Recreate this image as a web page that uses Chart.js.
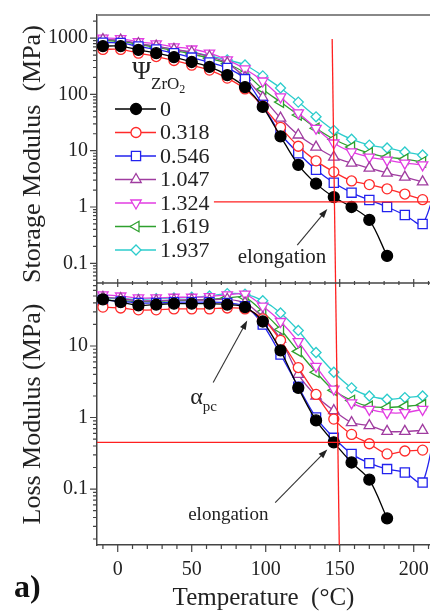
<!DOCTYPE html>
<html>
<head>
<meta charset="utf-8">
<script src="https://cdn.jsdelivr.net/npm/chart.js@4.4.1/dist/chart.umd.min.js"></script>
<style>
  html, body { margin: 0; padding: 0; background: #fff; }
  #wrap { position: relative; width: 430px; height: 613px; overflow: hidden; }
  canvas { position: absolute; left: 0; top: 0; }
  #tag { position: absolute; left: 14px; top: 568px; font: bold 32px "Liberation Serif", serif; color: #111; }
</style>
</head>
<body>
<div id="wrap">
  <canvas id="lossChart" width="430" height="613"></canvas>
  <canvas id="storageChart" width="430" height="613"></canvas>
  <div id="tag">a)</div>
</div>
<script>
// temperatures (°C) of the measuring points
const temps = [-10, 2, 14, 26, 38, 50, 62, 74, 86, 98, 110, 122, 134, 146, 158, 170, 182, 194, 206, 218]
const psi = ['0', '0.318', '0.546', '1.047', '1.324', '1.619', '1.937']

// storage modulus (MPa)
const storage0    = [720, 720, 617, 540, 460, 376, 307, 220, 135, 60, 18, 5.6, 2.6, 1.5, 1.0, 0.59, 0.135]
const storage0318 = [630, 630, 540, 470, 400, 330, 270, 195, 125, 62, 26, 12, 6.6, 4.2, 2.9, 2.5, 2.1, 1.7, 1.35]
const storage0546 = [830, 820, 710, 630, 540, 450, 370, 295, 187, 65, 20, 9, 4.6, 2.7, 1.8, 1.33, 1.0, 0.72, 0.5, 5]
const storage1047 = [940, 920, 800, 720, 630, 560, 470, 360, 200, 88, 38, 19, 11.6, 7.7, 6.0, 4.9, 4.0, 3.4, 2.8]
const storage1324 = [1000, 980, 860, 790, 700, 640, 540, 410, 283, 173, 90, 47, 25, 13.7, 9.5, 7.7, 6.8, 6.0, 5.6]
const storage1619 = [900, 880, 770, 690, 600, 520, 440, 350, 240, 124, 73, 43, 25, 16, 11.6, 9.1, 7.7, 7.1, 6.3]
const storage1937 = [920, 900, 790, 710, 630, 560, 480, 410, 333, 213, 130, 73, 40, 23, 16, 12.6, 11.2, 9.5, 8.4]

// loss modulus (MPa)
const loss0    = [45, 41, 37, 38, 39, 39, 39, 38, 35, 22, 8.7, 2.6, 0.91, 0.45, 0.235, 0.135, 0.039]
const loss0318 = [35, 34, 32, 32, 33, 33, 33, 34, 33, 24, 12, 5.0, 2.1, 0.95, 0.58, 0.43, 0.31, 0.34, 0.35]
const loss0546 = [44, 42, 40, 40, 41, 41, 41, 40, 36, 20, 7.6, 2.7, 1.0, 0.52, 0.31, 0.23, 0.19, 0.17, 0.123, 2.0]
const loss1047 = [48, 46, 43, 43, 44, 44, 44, 45, 40, 25, 12.5, 4.0, 2.0, 1.25, 0.85, 0.77, 0.64, 0.64, 0.66]
const loss1324 = [52, 50, 47, 47, 48, 48, 49, 52, 53, 36, 22, 11.5, 5.2, 2.5, 1.6, 1.3, 1.17, 1.17, 1.3]
const loss1619 = [44, 43, 42, 42, 43, 44, 45, 47, 48, 30, 17, 8.4, 4.3, 2.4, 1.73, 1.43, 1.38, 1.43, 1.5]
const loss1937 = [47, 46, 45, 46, 47, 48, 50, 54, 53, 43, 29, 16.5, 8.1, 4.3, 2.6, 2.0, 1.8, 1.9, 2.0]

// red guide lines
const guideStorage = 1.23
const guideLoss = 0.45
const guideTempTop = [144.9, 147.2]
const guideTempBottom = [147.2, 149.7]

// ticks
const xTicks = [0, 50, 100, 150, 200]
const storageTicks = [0.1, 1, 10, 100, 1000]
const lossTicks = [0.1, 1, 10]

const serif = '"Liberation Serif", "Times New Roman", serif'
const axisColor = '#444'
const textColor = '#222'

const looks = [
    {color: '#000000', fill: '#000000', style: 'circle', rot: 0, r: 5.5},
    {color: '#ff2a2a', fill: '#ffffff', style: 'circle', rot: 0, r: 5},
    {color: '#2222ee', fill: '#ffffff', style: 'rect', rot: 0, r: 6.5},
    {color: '#a03ca0', fill: '#ffffff', style: 'triangle', rot: 0, r: 6},
    {color: '#e23ce2', fill: '#ffffff', style: 'triangle', rot: 180, r: 6},
    {color: '#2ea02e', fill: '#ffffff', style: 'triangle', rot: -90, r: 6},
    {color: '#2ccccc', fill: '#ffffff', style: 'rectRot', rot: 0, r: 5},
]

function seriesSets(lists) {
    return lists.map((vals, i) => ({
        label: psi[i],
        data: vals.map((v, j) => ({x: temps[j], y: v})),
        borderColor: looks[i].color,
        backgroundColor: looks[i].fill,
        pointBackgroundColor: looks[i].fill,
        pointBorderColor: looks[i].color,
        pointStyle: looks[i].style,
        pointRotation: looks[i].rot,
        pointRadius: looks[i].r,
        pointBorderWidth: 1.3,
        borderWidth: 1.3,
        tension: 0.3,
        fill: false,
        series: true
    }))
}

function guide(points) {
    return {data: points, borderColor: '#ff2020', borderWidth: 1.3, pointRadius: 0, tension: 0, fill: false, series: false}
}

function decadeTicks(scale) {
    const out = []
    const lo = Math.floor(Math.log10(scale.min)), hi = Math.ceil(Math.log10(scale.max))
    for (let e = lo; e <= hi; e++) {
        for (let m = 1; m < 10; m++) {
            const v = m * Math.pow(10, e)
            if (v >= scale.min && v <= scale.max) out.push({v: v, major: m === 1})
        }
    }
    return out
}

function arrow(ctx, x1, y1, x2, y2) {
    const ang = Math.atan2(y2 - y1, x2 - x1)
    const L = 9, W = 3.2
    ctx.beginPath()
    ctx.moveTo(x1, y1)
    ctx.lineTo(x2 - 4 * Math.cos(ang), y2 - 4 * Math.sin(ang))
    ctx.stroke()
    ctx.beginPath()
    ctx.moveTo(x2, y2)
    ctx.lineTo(x2 - L * Math.cos(ang) + W * Math.sin(ang), y2 - L * Math.sin(ang) - W * Math.cos(ang))
    ctx.lineTo(x2 - L * Math.cos(ang) - W * Math.sin(ang), y2 - L * Math.sin(ang) + W * Math.cos(ang))
    ctx.closePath()
    ctx.fill()
}

function marker(ctx, ds, x, y) {
    ctx.save()
    ctx.fillStyle = ds.pointBackgroundColor
    ctx.strokeStyle = ds.pointBorderColor
    ctx.lineWidth = ds.pointBorderWidth
    Chart.helpers.drawPoint(ctx, {
        pointStyle: ds.pointStyle, rotation: ds.pointRotation, radius: ds.pointRadius, borderWidth: ds.pointBorderWidth
    }, x, y)
    ctx.restore()
}

const frame = {
    id: 'frame',
    afterDraw(chart, args, o) {
        const {ctx, chartArea: a} = chart
        const x = chart.scales.x, y = chart.scales.y
        ctx.save()
        ctx.strokeStyle = axisColor
        ctx.lineWidth = 1.2
        ctx.beginPath()
        decadeTicks(y).forEach(t => {
            const py = y.getPixelForValue(t.v)
            ctx.moveTo(a.left - (t.major ? 7 : 4), py)
            ctx.lineTo(a.left, py)
        })
        for (let v = -10; v <= 210; v += 10) {
            const px = x.getPixelForValue(v)
            const big = v % 50 === 0
            if (o.divider) {
                const h = big ? 4 : 2
                ctx.moveTo(px, a.bottom - h)
                ctx.lineTo(px, a.bottom + h)
            } else {
                ctx.moveTo(px, a.bottom)
                ctx.lineTo(px, a.bottom + (big ? 7 : 4))
            }
        }
        ctx.stroke()

        if (o.divider) {
            ctx.lineWidth = 1.5
            ctx.beginPath()
            ctx.moveTo(a.left, a.bottom)
            ctx.lineTo(a.right, a.bottom)
            ctx.stroke()
            ctx.strokeStyle = '#888'
            ctx.lineWidth = 2
            ctx.beginPath()
            ctx.moveTo(a.left, a.top)
            ctx.lineTo(a.right, a.top)
            ctx.stroke()
        }

        // notes and arrows
        ctx.fillStyle = textColor
        ctx.strokeStyle = '#333'
        ctx.lineWidth = 1.1
        ctx.textBaseline = 'middle'
        ;(o.notes || []).forEach(n => {
            if (n.type === 'text') {
                ctx.font = n.size + 'px ' + serif
                ctx.textAlign = n.align || 'center'
                ctx.fillText(n.text, x.getPixelForValue(n.at[0]), y.getPixelForValue(n.at[1]))
            } else {
                arrow(ctx, x.getPixelForValue(n.from[0]), y.getPixelForValue(n.from[1]),
                    x.getPixelForValue(n.to[0]), y.getPixelForValue(n.to[1]))
            }
        })

        if (o.legend) {
            ctx.textAlign = 'left'
            ctx.font = '26px ' + serif
            ctx.fillText('Ψ', 132, 72)
            ctx.font = '17px ' + serif
            ctx.fillText('ZrO', 151, 85)
            const w = ctx.measureText('ZrO').width
            ctx.font = '12px ' + serif
            ctx.fillText('2', 151 + w, 90)

            ctx.font = '22px ' + serif
            chart.data.datasets.filter(d => d.series).forEach((ds, i) => {
                const ry = 109 + i * 23.5
                ctx.strokeStyle = ds.borderColor
                ctx.lineWidth = 1.3
                ctx.beginPath()
                ctx.moveTo(115, ry)
                ctx.lineTo(156, ry)
                ctx.stroke()
                marker(ctx, ds, 136, ry)
                ctx.fillStyle = textColor
                ctx.fillText(ds.label, 160, ry + 1)
            })
        }
        ctx.restore()
    }
}

function makeChart(id, lists, yMin, yMax, yTicks, yTitle, bottom, guides, notes) {
    return new Chart(document.getElementById(id), {
        type: 'line',
        data: {datasets: guides.concat(seriesSets(lists))},
        options: {
            responsive: false,
            animation: false,
            events: [],
            layout: {
                autoPadding: false,
                padding: bottom ? {top: 283, bottom: 0, left: 0, right: 0} : {top: 15, bottom: 330, left: 0, right: 0}
            },
            plugins: {
                legend: {display: false},
                tooltip: {enabled: false},
                frame: {divider: !bottom, legend: !bottom, notes: notes}
            },
            scales: {
                x: {
                    type: 'linear', min: -14, max: 211, display: bottom,
                    afterBuildTicks: s => { s.ticks = xTicks.map(v => ({value: v})) },
                    afterFit: s => {
                        if (bottom) s.height = 68
                        s.paddingLeft = 0
                        s.paddingRight = 0
                    },
                    grid: {display: false, drawTicks: false},
                    border: {display: true, color: axisColor, width: 1.5},
                    ticks: {padding: 13, color: textColor, font: {family: serif, size: 20}, maxRotation: 0, autoSkip: false},
                    title: {display: true, text: 'Temperature  (°C)', color: textColor, font: {family: serif, size: 25}, padding: {top: 0, bottom: 0}}
                },
                y: {
                    type: 'logarithmic', min: yMin, max: yMax,
                    afterBuildTicks: s => { s.ticks = yTicks.map(v => ({value: v})) },
                    afterFit: s => { s.width = 97; s.paddingTop = 0; s.paddingBottom = 0 },
                    grid: {display: false, drawTicks: false},
                    border: {display: true, color: axisColor, width: 1.5},
                    ticks: {callback: v => String(v), padding: 9, color: textColor, font: {family: serif, size: 20}, autoSkip: false},
                    title: {
                        display: true, text: yTitle, color: textColor, align: bottom ? 'center' : 'start',
                        font: {family: serif, size: 26}, padding: {top: 18, bottom: 0}
                    }
                }
            }
        },
        plugins: [frame]
    })
}

makeChart('lossChart',
    [loss0, loss0318, loss0546, loss1047, loss1324, loss1619, loss1937],
    0.0165, 76, lossTicks, 'Loss Modulus (MPa)', true,
    [guide([{x: -14, y: guideLoss}, {x: 215, y: guideLoss}]),
     guide([{x: guideTempBottom[0], y: 76}, {x: guideTempBottom[1], y: 0.0165}])],
    [
        {type: 'text', text: 'elongation', size: 19, at: [74.7, 0.044]},
        {type: 'arrow', from: [106.4, 0.0647], to: [141.6, 0.356]},
        {type: 'text', text: 'α', size: 24, align: 'right', at: [57.5, 1.9]},
        {type: 'text', text: 'pc', size: 15, align: 'left', at: [57.5, 1.4]},
        {type: 'arrow', from: [64.5, 3.09], to: [87.5, 22.7]}
    ])

makeChart('storageChart',
    [storage0, storage0318, storage0546, storage1047, storage1324, storage1619, storage1937],
    0.0447, 2570, storageTicks, 'Storage Modulus  (MPa)', false,
    [guide([{x: 65, y: guideStorage}, {x: 215, y: guideStorage}]),
     guide([{x: guideTempTop[0], y: 960}, {x: guideTempTop[1], y: 0.0447}])],
    [
        {type: 'text', text: 'elongation', size: 21, at: [111, 0.129]},
        {type: 'arrow', from: [121.3, 0.211], to: [141.6, 0.92]}
    ])
</script>
</body>
</html>
